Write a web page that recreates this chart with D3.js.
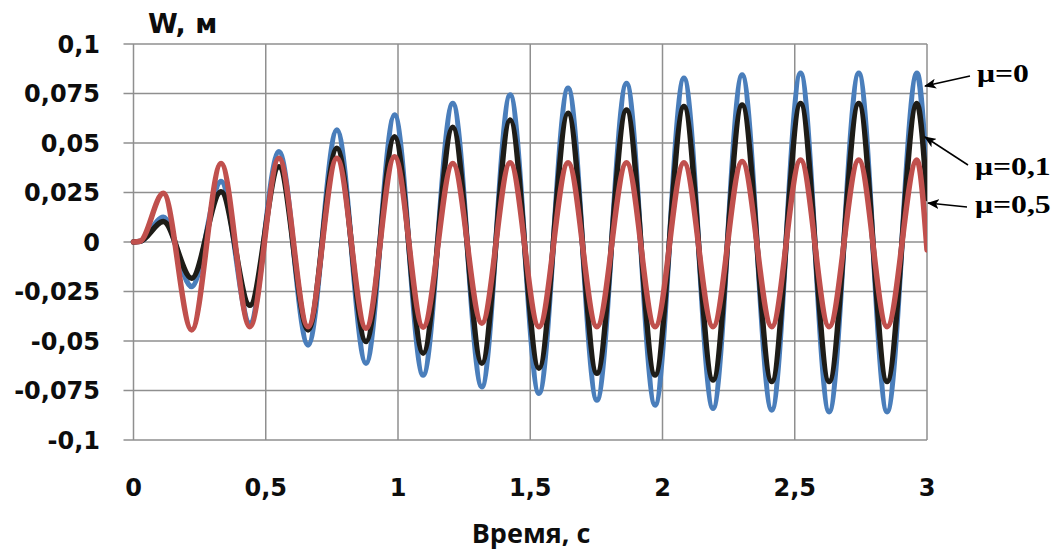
<!DOCTYPE html>
<html>
<head>
<meta charset="utf-8">
<script src="https://cdn.jsdelivr.net/npm/d3@7"></script>
<style>
  html, body { margin: 0; padding: 0; background: #fff; }
  svg { display: block; }
</style>
</head>
<body>
<script>
// ---- data ----
const times = [0, 0.025, 0.113, 0.220, 0.331, 0.440, 0.550, 0.660, 0.769, 0.879, 0.987, 1.095, 1.207, 1.317, 1.424, 1.533, 1.643, 1.752, 1.864, 1.972, 2.081, 2.191, 2.301, 2.413, 2.522, 2.630, 2.742, 2.849, 2.962, 3.0];
const mu0  = [0, 0.0003, 0.0125, -0.0225, 0.0305, -0.041, 0.0456, -0.052, 0.0566, -0.0613, 0.0641, -0.0672, 0.070, -0.0731, 0.0742, -0.0764, 0.0776, -0.0798, 0.0801, -0.0823, 0.0827, -0.084, 0.0843, -0.0848, 0.0852, -0.0857, 0.0852, -0.0857, 0.0852, 0.030];
const mu01 = [0, 0.0003, 0.0103, -0.0183, 0.0254, -0.032, 0.038, -0.0444, 0.0473, -0.0503, 0.0532, -0.0562, 0.058, -0.0613, 0.0616, -0.0638, 0.065, -0.0663, 0.0667, -0.0672, 0.0684, -0.0697, 0.0692, -0.0705, 0.070, -0.0705, 0.070, -0.0705, 0.070, 0.022];
const mu05 = [0, 0.0004, 0.0246, -0.0444, 0.0397, -0.0428, 0.0423, -0.0428, 0.0423, -0.0436, 0.0431, -0.043, 0.0397, -0.041, 0.040, -0.0428, 0.040, -0.0428, 0.040, -0.0428, 0.040, -0.0428, 0.0406, -0.0428, 0.0414, -0.0428, 0.0414, -0.0428, 0.0414, -0.004];
const seriesNames = ["μ=0", "μ=0,1", "μ=0,5"];
const yTicks = [-0.1, -0.075, -0.05, -0.025, 0, 0.025, 0.05, 0.075, 0.1];
const yTickLabels = ["-0,1", "-0,075", "-0,05", "-0,025", "0", "0,025", "0,05", "0,075", "0,1"];
const xTicks = [0, 0.5, 1, 1.5, 2, 2.5, 3];
const xTickLabels = ["0", "0,5", "1", "1,5", "2", "2,5", "3"];
const yTitle = "W, м";
const xTitle = "Время, с";

(function () {
// ---- layout ----
const W = 1061, H = 552;
const pLeft = 133.5, pRight = 927, pTop = 44, pBottom = 440;

const svg = d3.select("body").append("svg").attr("width", W).attr("height", H);
const defs = svg.append("defs");

const x = d3.scaleLinear().domain([0, 3]).range([pLeft, pRight]);
const y = d3.scaleLinear().domain([-0.1, 0.1]).range([pBottom, pTop]);

const gridColor = "#8f8f8f";

// horizontal grid + short outer ticks
svg.append("g").selectAll("line").data(yTicks).join("line")
  .attr("x1", pLeft - 10).attr("x2", pRight)
  .attr("y1", d => y(d)).attr("y2", d => y(d))
  .attr("stroke", gridColor).attr("stroke-width", 1.5);

// vertical grid
svg.append("g").selectAll("line").data(xTicks).join("line")
  .attr("x1", d => x(d)).attr("x2", d => x(d))
  .attr("y1", pTop).attr("y2", pBottom)
  .attr("stroke", gridColor).attr("stroke-width", 1.5);

const tickFont = "'DejaVu Sans', sans-serif";

// y tick labels
svg.append("g").selectAll("text").data(yTicks).join("text")
  .attr("x", 100).attr("y", d => y(d)).attr("dy", "0.36em")
  .attr("text-anchor", "end")
  .attr("font-family", tickFont).attr("font-weight", "bold").attr("font-size", 24)
  .attr("fill", "#0d0d0d")
  .text((d, i) => yTickLabels[i]);

// x tick labels
svg.append("g").selectAll("text").data(xTicks).join("text")
  .attr("x", d => x(d)).attr("y", 496)
  .attr("text-anchor", "middle")
  .attr("font-family", tickFont).attr("font-weight", "bold").attr("font-size", 24)
  .attr("fill", "#0d0d0d")
  .text((d, i) => xTickLabels[i]);

// axis titles
svg.append("text").attr("x", 148).attr("y", 33)
  .attr("font-family", tickFont).attr("font-weight", "bold").attr("font-size", 27)
  .attr("fill", "#0d0d0d").text(yTitle);

svg.append("text").attr("x", 531).attr("y", 543)
  .attr("text-anchor", "middle")
  .attr("font-family", "'Open Sans', sans-serif").attr("font-weight", "bold").attr("font-size", 27)
  .attr("fill", "#0d0d0d").text(xTitle);

// ---- curves ----
const line = d3.line()
  .x((d, i) => x(times[i]))
  .y(d => y(d))
  .curve(d3.curveMonotoneX);

const series = [
  { values: mu0,  color: "#4a7ebb" },
  { values: mu01, color: "#1e1c17" },
  { values: mu05, color: "#c0504d" }
];

defs.append("clipPath").attr("id", "clip")
  .append("rect").attr("x", pLeft - 4).attr("y", 0).attr("width", pRight - pLeft + 4).attr("height", H);

svg.append("g").attr("clip-path", "url(#clip)")
  .selectAll("path").data(series).join("path")
  .attr("d", d => line(d.values))
  .attr("fill", "none")
  .attr("stroke", d => d.color)
  .attr("stroke-width", 5.5)
  .attr("stroke-linejoin", "round")
  .attr("stroke-linecap", "round");

// ---- annotations ----
defs.append("marker").attr("id", "arrow")
  .attr("viewBox", "0 0 12 10").attr("refX", 11).attr("refY", 5)
  .attr("markerWidth", 12).attr("markerHeight", 10)
  .attr("markerUnits", "userSpaceOnUse")
  .attr("orient", "auto")
  .append("path").attr("d", "M0,0 L12,5 L0,10 L3,5 Z").attr("fill", "#000");

const annos = [
  { text: seriesNames[0], tx: 977, ty: 82,  x1: 970, y1: 76,  x2: 925, y2: 86 },
  { text: seriesNames[1], tx: 975, ty: 175, x1: 968, y1: 165, x2: 925, y2: 137 },
  { text: seriesNames[2], tx: 975, ty: 213, x1: 967, y1: 207, x2: 928, y2: 203 }
];

svg.append("g").selectAll("line").data(annos).join("line")
  .attr("x1", d => d.x1).attr("y1", d => d.y1)
  .attr("x2", d => d.x2).attr("y2", d => d.y2)
  .attr("stroke", "#000").attr("stroke-width", 1.5)
  .attr("marker-end", "url(#arrow)");

svg.append("g").selectAll("text").data(annos).join("text")
  .attr("transform", d => `translate(${d.tx},${d.ty}) scale(1.22,1)`)
  .attr("font-family", "'Liberation Serif', serif").attr("font-weight", "bold").attr("font-size", 26)
  .attr("fill", "#000")
  .text(d => d.text);
})();
</script>
</body>
</html>
